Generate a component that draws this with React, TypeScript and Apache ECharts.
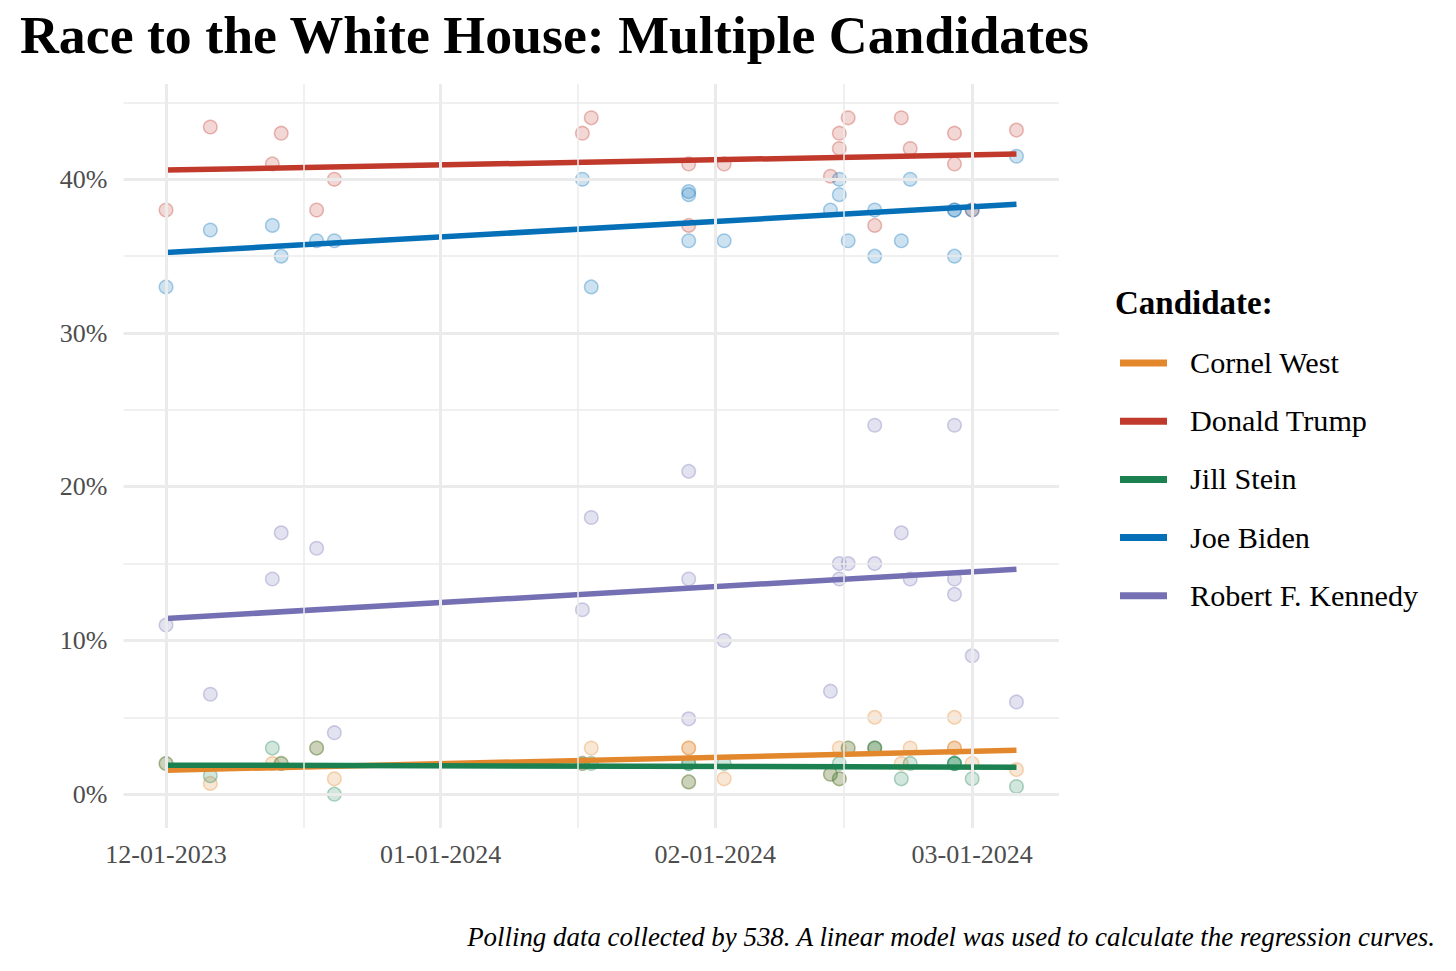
import React, { useEffect, useRef } from "react";
import * as echarts from "echarts";

const FONT = "'Liberation Serif', 'Times New Roman', serif";

const CANDIDATES = ["Cornel West", "Donald Trump", "Jill Stein", "Joe Biden", "Robert F. Kennedy"];
const COLORS = ["#E3872D", "#C0392B", "#1B8150", "#0570B8", "#7570B3"];

// Poll results (date, percent)
const WEST_POLLS: [string, number][] = [
  ["2023-12-01", 2], ["2023-12-06", 0.7], ["2023-12-13", 2], ["2023-12-14", 2], ["2023-12-18", 3],
  ["2023-12-20", 1], ["2024-01-17", 2], ["2024-01-18", 3], ["2024-01-29", 3], ["2024-01-29", 3],
  ["2024-01-29", 0.8], ["2024-02-02", 1], ["2024-02-14", 1.3], ["2024-02-15", 3], ["2024-02-15", 1],
  ["2024-02-16", 3], ["2024-02-19", 5], ["2024-02-19", 3], ["2024-02-22", 2], ["2024-02-23", 3],
  ["2024-02-28", 5], ["2024-02-28", 3], ["2024-02-28", 3], ["2024-03-01", 2], ["2024-03-06", 1.6],
];
const TRUMP_POLLS: [string, number][] = [
  ["2023-12-01", 38], ["2023-12-06", 43.4], ["2023-12-13", 41], ["2023-12-14", 43], ["2023-12-18", 38],
  ["2023-12-20", 40], ["2024-01-17", 43], ["2024-01-18", 44], ["2024-01-29", 41], ["2024-01-29", 37],
  ["2024-02-02", 41], ["2024-02-14", 40.2], ["2024-02-15", 43], ["2024-02-15", 42], ["2024-02-16", 44],
  ["2024-02-19", 37], ["2024-02-22", 44], ["2024-02-23", 42], ["2024-02-28", 43], ["2024-02-28", 41],
  ["2024-03-01", 38], ["2024-03-06", 43.2],
];
const STEIN_POLLS: [string, number][] = [
  ["2023-12-01", 2], ["2023-12-06", 1.2], ["2023-12-13", 3], ["2023-12-14", 2], ["2023-12-18", 3],
  ["2023-12-20", 0], ["2024-01-17", 2], ["2024-01-18", 2], ["2024-01-29", 2], ["2024-01-29", 2],
  ["2024-01-29", 0.8], ["2024-02-02", 2], ["2024-02-14", 1.3], ["2024-02-15", 2], ["2024-02-15", 1],
  ["2024-02-16", 3], ["2024-02-19", 3], ["2024-02-19", 3], ["2024-02-22", 1], ["2024-02-23", 2],
  ["2024-02-28", 2], ["2024-02-28", 2], ["2024-02-28", 2], ["2024-03-01", 1], ["2024-03-06", 0.5],
];
const BIDEN_POLLS: [string, number][] = [
  ["2023-12-01", 33], ["2023-12-06", 36.7], ["2023-12-13", 37], ["2023-12-14", 35], ["2023-12-18", 36],
  ["2023-12-20", 36], ["2024-01-17", 40], ["2024-01-18", 33], ["2024-01-29", 39.2], ["2024-01-29", 39],
  ["2024-01-29", 36], ["2024-02-02", 36], ["2024-02-14", 38], ["2024-02-15", 40], ["2024-02-15", 39],
  ["2024-02-16", 36], ["2024-02-19", 38], ["2024-02-19", 35], ["2024-02-22", 36], ["2024-02-23", 40],
  ["2024-02-28", 38], ["2024-02-28", 38], ["2024-02-28", 35], ["2024-03-01", 38], ["2024-03-06", 41.5],
];
const RFK_POLLS: [string, number][] = [
  ["2023-12-01", 11], ["2023-12-06", 6.5], ["2023-12-13", 14], ["2023-12-14", 17], ["2023-12-18", 16],
  ["2023-12-20", 4], ["2024-01-17", 12], ["2024-01-18", 18], ["2024-01-29", 21], ["2024-01-29", 14],
  ["2024-01-29", 4.9], ["2024-02-02", 10], ["2024-02-14", 6.7], ["2024-02-15", 15], ["2024-02-15", 14],
  ["2024-02-16", 15], ["2024-02-19", 24], ["2024-02-19", 15], ["2024-02-22", 17], ["2024-02-23", 14],
  ["2024-02-28", 24], ["2024-02-28", 14], ["2024-02-28", 13], ["2024-03-01", 9], ["2024-03-06", 6],
];

// Regression line endpoints
const TREND_DATES = ["2023-12-01", "2024-03-06"];
const WEST_TREND = [1.56, 2.86];
const TRUMP_TREND = [40.6, 41.64];
const STEIN_TREND = [1.89, 1.76];
const BIDEN_TREND = [35.24, 38.37];
const RFK_TREND = [11.43, 14.64];

// Axes
const X_TICKS = ["2023-12-01", "2024-01-01", "2024-02-01", "2024-03-01"];
const X_MINOR = ["2023-12-16T12:00:00", "2024-01-16T12:00:00", "2024-02-15T12:00:00"];
const X_RANGE = ["2023-11-26T04:48:00", "2024-03-10T19:12:00"];
const Y_TICKS = [0, 10, 20, 30, 40];
const Y_MINOR = [5, 15, 25, 35, 45];
const Y_RANGE = [-2.2, 46.2];

const POLLS = [WEST_POLLS, TRUMP_POLLS, STEIN_POLLS, BIDEN_POLLS, RFK_POLLS];
const TRENDS = [WEST_TREND, TRUMP_TREND, STEIN_TREND, BIDEN_TREND, RFK_TREND];

const TITLE = "Race to the White House: Multiple Candidates";
const LEGEND_TITLE = "Candidate:";
const CAPTION = "Polling data collected by 538. A linear model was used to calculate the regression curves.";

function toTs(d: string): number {
  return Date.parse((d.includes("T") ? d : d + "T00:00:00") + "Z");
}
function rgba(hex: string, a: number): string {
  const n = parseInt(hex.slice(1), 16);
  return `rgba(${(n >> 16) & 255},${(n >> 8) & 255},${n & 255},${a})`;
}
function pad(n: number) {
  return n < 10 ? "0" + n : "" + n;
}
function fmtDate(v: number) {
  const d = new Date(v);
  return `${pad(d.getUTCMonth() + 1)}-${pad(d.getUTCDate())}-${d.getUTCFullYear()}`;
}

export default function App() {
  const ref = useRef<HTMLDivElement>(null);
  useEffect(() => {
    if (!ref.current) return;
    const chart = echarts.init(ref.current, null, { renderer: "svg" });
    const GRID = "#EBEBEB";
    const gridLines: any[] = [
      ...Y_TICKS.map((v) => ({ yAxis: v, lineStyle: { width: 3, color: GRID, type: "solid" } })),
      ...Y_MINOR.map((v) => ({ yAxis: v, lineStyle: { width: 1.5, color: GRID, type: "solid" } })),
      ...X_TICKS.map((d) => ({ xAxis: toTs(d), lineStyle: { width: 3, color: GRID, type: "solid" } })),
      ...X_MINOR.map((d) => ({ xAxis: toTs(d), lineStyle: { width: 1.5, color: GRID, type: "solid" } })),
    ];
    const scatterSeries = CANDIDATES.map((name, i) => ({
      type: "scatter",
      name: name + " polls",
      z: 2,
      symbol: "circle",
      symbolSize: 13.5,
      silent: true,
      itemStyle: {
        color: rgba(COLORS[i], 0.25),
        borderColor: rgba(COLORS[i], 0.42),
        borderWidth: 1.5,
      },
      data: POLLS[i].map(([d, v]) => [toTs(d), v]),
    }));
    const lineSeries = CANDIDATES.map((name, i) => ({
      type: "line",
      name,
      z: 3,
      showSymbol: false,
      symbol: "none",
      silent: true,
      color: COLORS[i],
      lineStyle: { color: COLORS[i], width: 5.5, cap: "butt" },
      data: TREND_DATES.map((d, k) => [toTs(d), TRENDS[i][k]]),
    }));
    chart.setOption({
      animation: false,
      backgroundColor: "#ffffff",
      title: [
        {
          text: TITLE,
          left: 20,
          top: 8,
          padding: 0,
          textStyle: { fontFamily: FONT, fontSize: 53.8, fontWeight: "bold", color: "#000" },
        },
        {
          text: LEGEND_TITLE,
          left: 1115,
          top: 286,
          padding: 0,
          textStyle: { fontFamily: FONT, fontSize: 33, fontWeight: "bold", color: "#000" },
        },
        {
          text: CAPTION,
          right: 20,
          top: 923,
          padding: 0,
          textStyle: { fontFamily: FONT, fontSize: 26.9, fontStyle: "italic", fontWeight: "normal", color: "#000" },
        },
      ],
      legend: {
        data: CANDIDATES,
        orient: "vertical",
        left: 1120,
        top: 348,
        padding: 0,
        itemWidth: 47,
        itemHeight: 7,
        itemGap: 28.2,
        icon: "rect",
        selectedMode: false,
        textStyle: { fontFamily: FONT, fontSize: 30.2, color: "#000", lineHeight: 30, padding: [0, 0, 0, 18] },
      },
      grid: { left: 123.5, right: 397, top: 84, bottom: 143, containLabel: false },
      xAxis: {
        type: "value",
        min: toTs(X_RANGE[0]),
        max: toTs(X_RANGE[1]),
        axisLine: { show: false },
        axisTick: { show: false },
        splitLine: { show: false },
        axisLabel: {
          customValues: X_TICKS.map(toTs),
          formatter: (v: number) => fmtDate(v),
          fontFamily: FONT,
          fontSize: 26,
          color: "#4D4D4D",
          margin: 13,
          hideOverlap: false,
        },
      },
      yAxis: {
        type: "value",
        min: Y_RANGE[0],
        max: Y_RANGE[1],
        axisLine: { show: false },
        axisTick: { show: false },
        splitLine: { show: false },
        axisLabel: {
          customValues: Y_TICKS,
          formatter: (v: number) => `${v}%`,
          fontFamily: FONT,
          fontSize: 26,
          color: "#4D4D4D",
          margin: 16,
        },
      },
      series: [
        {
          type: "scatter",
          name: "grid",
          z: 1,
          silent: true,
          data: [],
          markLine: {
            silent: true,
            symbol: ["none", "none"],
            label: { show: false },
            animation: false,
            data: gridLines,
          },
        },
        ...scatterSeries,
        ...lineSeries,
      ],
    });
    return () => chart.dispose();
  }, []);
  return (
    <div
      ref={ref}
      style={{ position: "fixed", left: 0, top: 0, width: 1456, height: 971, background: "#fff" }}
    />
  );
}
